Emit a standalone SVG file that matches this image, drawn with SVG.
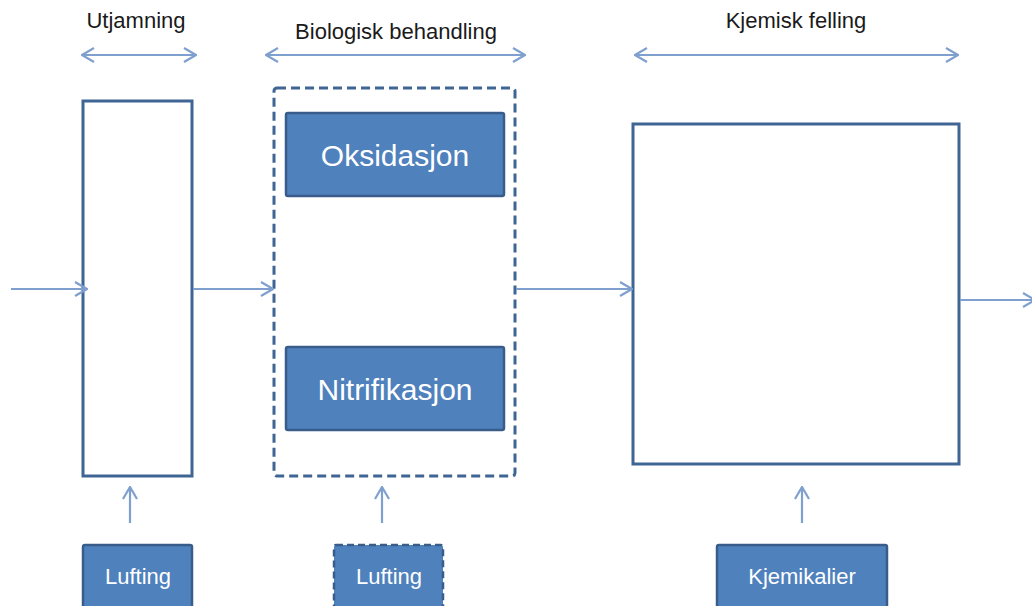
<svg xmlns="http://www.w3.org/2000/svg" width="1032" height="606" viewBox="0 0 1032 606">
<style>
.bg{fill:#ffffff}
.frame{fill:#ffffff;stroke:#3E6593;stroke-width:3}
.dash{fill:none;stroke:#3E6593;stroke-width:3;stroke-dasharray:9,5}
.blue{fill:#4F81BD;stroke:#385D8A;stroke-width:2.5}
.bluedash{fill:#4F81BD;stroke:#385D8A;stroke-width:2.5;stroke-dasharray:7,4}
.conn{stroke:#7FA0CF;stroke-width:2.2;fill:none}
.lbl{font-family:"Liberation Sans",Arial,sans-serif;fill:#1a1a1a;text-anchor:middle;font-size:22px}
.wt{font-family:"Liberation Sans",Arial,sans-serif;fill:#ffffff;text-anchor:middle}
</style>
<defs>
<marker id="ah" viewBox="0 0 14 16" refX="13" refY="8" markerWidth="14" markerHeight="16" markerUnits="userSpaceOnUse" orient="auto-start-reverse">
<path d="M1,1 L13,8 L1,15" fill="none" stroke="#7FA0CF" stroke-width="2.2"/>
</marker>
</defs>
<rect class="bg" x="0" y="0" width="1032" height="606"/>
<g id="labels">
<text class="lbl" x="136" y="28">Utjamning</text>
<text class="lbl" x="396" y="39">Biologisk behandling</text>
<text class="lbl" x="796" y="28">Kjemisk felling</text>
</g>
<g id="utjamning"><rect class="frame" x="83" y="101" width="109" height="375"/></g>
<g id="biologisk"><rect class="dash" x="274" y="88" width="241" height="388" rx="3"/></g>
<g id="oksidasjon"><rect class="blue" x="286" y="113" width="218" height="83" rx="2"/><text class="wt" x="395" y="166" font-size="30">Oksidasjon</text></g>
<g id="nitrifikasjon"><rect class="blue" x="286" y="347" width="218" height="83" rx="2"/><text class="wt" x="395" y="400" font-size="30">Nitrifikasjon</text></g>
<g id="kjemisk"><rect class="frame" x="633" y="124" width="326" height="340"/></g>
<g id="lufting1"><rect class="blue" x="83" y="545" width="109" height="70" rx="2"/><text class="wt" x="138" y="584" font-size="22">Lufting</text></g>
<g id="lufting2"><rect class="bluedash" x="334" y="545" width="109" height="70" rx="2"/><text class="wt" x="389" y="584" font-size="22">Lufting</text></g>
<g id="kjemikalier"><rect class="blue" x="717" y="545" width="170" height="70" rx="2"/><text class="wt" x="802" y="584" font-size="22">Kjemikalier</text></g>
<g id="connectors">
<line class="conn" x1="82" y1="55" x2="196" y2="55" marker-start="url(#ah)" marker-end="url(#ah)"/>
<line class="conn" x1="266" y1="55" x2="525" y2="55" marker-start="url(#ah)" marker-end="url(#ah)"/>
<line class="conn" x1="635" y1="55" x2="958" y2="55" marker-start="url(#ah)" marker-end="url(#ah)"/>
<line class="conn" x1="11" y1="289" x2="87" y2="289" marker-end="url(#ah)"/>
<line class="conn" x1="193" y1="289" x2="273" y2="289" marker-end="url(#ah)"/>
<line class="conn" x1="516" y1="289" x2="632" y2="289" marker-end="url(#ah)"/>
<line class="conn" x1="960" y1="300" x2="1035" y2="300" marker-end="url(#ah)"/>
<line class="conn" x1="130" y1="523" x2="130" y2="487" marker-end="url(#ah)"/>
<line class="conn" x1="382" y1="523" x2="382" y2="487" marker-end="url(#ah)"/>
<line class="conn" x1="802" y1="523" x2="802" y2="487" marker-end="url(#ah)"/>
</g>
</svg>
